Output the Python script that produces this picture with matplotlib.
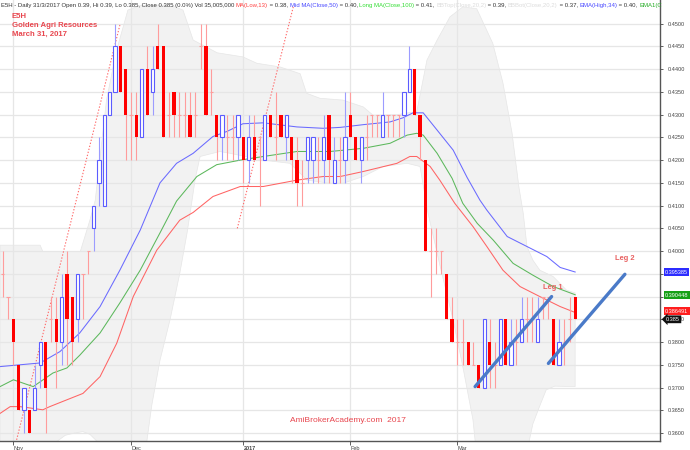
import numpy as np
import matplotlib
matplotlib.use("Agg")
import matplotlib.pyplot as plt
from matplotlib.transforms import blended_transform_factory

plt.rcParams['font.family'] = 'Liberation Sans'

# daily OHLC, 28 Oct 2016 .. 31 Mar 2017 (one row per trading day)
opens = [0.395, 0.390, 0.385, 0.375, 0.365, 0.365, 0.365, 0.375, 0.380, 0.385,
         0.385, 0.380, 0.395, 0.390, 0.385, 0.395, 0.400, 0.405, 0.415, 0.410,
         0.430, 0.435, 0.445, 0.440, 0.430, 0.430, 0.425, 0.440, 0.435, 0.445,
         0.445, 0.430, 0.435, 0.430, 0.430, 0.430, 0.430, 0.445, 0.445, 0.435,
         0.430, 0.425, 0.425, 0.425, 0.425, 0.425, 0.420, 0.425, 0.425, 0.420,
         0.430, 0.425, 0.430, 0.425, 0.425, 0.420, 0.415, 0.420, 0.420, 0.420,
         0.420, 0.430, 0.415, 0.420, 0.420, 0.430, 0.425, 0.420, 0.425, 0.430,
         0.430, 0.425, 0.430, 0.430, 0.430, 0.430, 0.435, 0.440, 0.430, 0.420,
         0.400, 0.400, 0.400, 0.395, 0.385, 0.380, 0.380, 0.380, 0.375, 0.375,
         0.370, 0.380, 0.375, 0.375, 0.385, 0.375, 0.380, 0.380, 0.385, 0.385,
         0.380, 0.390, 0.390, 0.385, 0.375, 0.380, 0.385, 0.390]
highs = [0.400, 0.390, 0.385, 0.375, 0.370, 0.365, 0.375, 0.380, 0.380, 0.390,
         0.390, 0.395, 0.400, 0.390, 0.395, 0.395, 0.400, 0.410, 0.425, 0.430,
         0.435, 0.450, 0.445, 0.440, 0.435, 0.435, 0.440, 0.445, 0.445, 0.450,
         0.445, 0.435, 0.435, 0.435, 0.435, 0.435, 0.435, 0.450, 0.450, 0.440,
         0.430, 0.430, 0.430, 0.430, 0.430, 0.425, 0.430, 0.430, 0.425, 0.430,
         0.430, 0.435, 0.430, 0.430, 0.425, 0.425, 0.420, 0.425, 0.425, 0.425,
         0.430, 0.430, 0.425, 0.425, 0.435, 0.435, 0.425, 0.425, 0.430, 0.430,
         0.430, 0.435, 0.430, 0.430, 0.430, 0.435, 0.445, 0.440, 0.430, 0.420,
         0.405, 0.405, 0.400, 0.395, 0.390, 0.385, 0.385, 0.380, 0.380, 0.375,
         0.385, 0.385, 0.380, 0.385, 0.385, 0.385, 0.385, 0.390, 0.390, 0.390,
         0.390, 0.390, 0.390, 0.385, 0.385, 0.385, 0.390, 0.390]
lows = [0.390, 0.385, 0.375, 0.365, 0.360, 0.360, 0.365, 0.370, 0.360, 0.380,
        0.370, 0.375, 0.375, 0.375, 0.380, 0.385, 0.395, 0.400, 0.410, 0.410,
        0.430, 0.435, 0.435, 0.420, 0.420, 0.420, 0.425, 0.430, 0.430, 0.440,
        0.425, 0.425, 0.425, 0.425, 0.425, 0.425, 0.425, 0.440, 0.430, 0.430,
        0.420, 0.420, 0.420, 0.420, 0.420, 0.415, 0.415, 0.420, 0.410, 0.420,
        0.425, 0.420, 0.425, 0.420, 0.415, 0.410, 0.410, 0.415, 0.415, 0.415,
        0.415, 0.415, 0.415, 0.415, 0.415, 0.425, 0.420, 0.415, 0.420, 0.425,
        0.425, 0.425, 0.425, 0.425, 0.425, 0.425, 0.435, 0.430, 0.420, 0.400,
        0.390, 0.395, 0.395, 0.385, 0.380, 0.375, 0.375, 0.375, 0.375, 0.370,
        0.370, 0.370, 0.370, 0.375, 0.375, 0.375, 0.375, 0.380, 0.380, 0.380,
        0.380, 0.385, 0.385, 0.375, 0.375, 0.375, 0.380, 0.385]
closes = [0.395, 0.390, 0.380, 0.365, 0.370, 0.360, 0.370, 0.380, 0.370, 0.385,
          0.380, 0.390, 0.385, 0.380, 0.395, 0.395, 0.400, 0.410, 0.420, 0.430,
          0.435, 0.445, 0.435, 0.430, 0.430, 0.425, 0.440, 0.430, 0.440, 0.440,
          0.425, 0.430, 0.430, 0.430, 0.430, 0.425, 0.430, 0.445, 0.430, 0.435,
          0.425, 0.430, 0.425, 0.425, 0.430, 0.420, 0.425, 0.420, 0.425, 0.430,
          0.425, 0.425, 0.425, 0.430, 0.420, 0.415, 0.415, 0.425, 0.425, 0.420,
          0.425, 0.420, 0.420, 0.420, 0.425, 0.425, 0.420, 0.425, 0.425, 0.430,
          0.430, 0.430, 0.430, 0.430, 0.430, 0.435, 0.440, 0.430, 0.425, 0.400,
          0.400, 0.400, 0.400, 0.385, 0.380, 0.380, 0.380, 0.375, 0.375, 0.370,
          0.385, 0.375, 0.375, 0.385, 0.375, 0.380, 0.380, 0.385, 0.385, 0.385,
          0.385, 0.390, 0.390, 0.375, 0.380, 0.380, 0.385, 0.385]

# indicator lines: (bar index, value)
ema_x = [-0.5, 7.0, 10.7, 14.4, 18.2, 21.9, 25.7, 29.4, 32.5, 35.6, 39.3, 41.9, 44.9,
         48.7, 55.0, 59.9, 63.1, 67.4, 72.4, 74.8, 76.7, 78.6, 81.2, 84.2, 86.8,
         89.2, 90.5, 94.3, 98.0, 101.7, 104.2, 107.0]
ema_y = [0.3746, 0.3754, 0.3779, 0.3820, 0.3878, 0.3958, 0.4046, 0.4150, 0.4193,
         0.4215, 0.4252, 0.4263, 0.4280, 0.4282, 0.4273, 0.4270, 0.4272, 0.4278,
         0.4284, 0.4293, 0.4304, 0.4304, 0.4266, 0.4222, 0.4162, 0.4112, 0.4090,
         0.4032, 0.4010, 0.3988, 0.3964, 0.3954]
ema1_x = [-0.5, 2.0, 5.7, 9.4, 12.0, 14.4, 18.2, 21.9, 25.7, 29.4, 32.5, 36.3, 40.0,
          44.4, 48.7, 55.0, 61.2, 67.4, 72.4, 75.6, 77.4, 78.6, 81.2, 84.0, 86.0,
          88.7, 91.7, 95.4, 99.1, 102.9, 107.0]
ema1_y = [0.3702, 0.3717, 0.3702, 0.3732, 0.3743, 0.3771, 0.3820, 0.3886, 0.3958,
          0.4040, 0.4110, 0.4164, 0.4190, 0.4200, 0.4208, 0.4219, 0.4219, 0.4226,
          0.4237, 0.4255, 0.4259, 0.4255, 0.4215, 0.4160, 0.4105, 0.4061, 0.4024,
          0.3973, 0.3947, 0.3922, 0.3904]
ma_low_x = [-0.5, 1.4, 3.2, 5.1, 7.5, 8.8, 12.0, 15.0, 18.2, 21.3, 24.4, 28.8, 33.1,
            35.6, 39.3, 44.4, 48.7, 55.0, 59.9, 63.1, 67.4, 73.7, 76.1, 77.4, 79.9,
            81.7, 84.5, 87.9, 90.5, 93.5, 96.7, 100.4, 104.2, 107.0]
ma_low_y = [0.3643, 0.3658, 0.3658, 0.3655, 0.3651, 0.3658, 0.3673, 0.3687, 0.3724,
            0.3797, 0.3900, 0.4002, 0.4068, 0.4085, 0.4120, 0.4142, 0.4142, 0.4156,
            0.4164, 0.4164, 0.4175, 0.4193, 0.4208, 0.4208, 0.4186, 0.4156, 0.4105,
            0.4054, 0.4010, 0.3958, 0.3922, 0.3900, 0.3878, 0.3865]

# Bollinger band edges
bb_top_x = [-0.5, 7.0, 7.5, 14.5, 16.3, 17.3, 19.4, 21.3, 23.4, 25.7, 29.4, 32.2, 33.7,
            35.6, 40.1, 44.9, 47.5, 51.8, 55.6, 56.8, 59.3, 63.6, 67.4, 69.2, 73.7,
            77.4, 79.3, 81.2, 83.6, 86.0, 88.6, 91.6, 93.5, 95.2, 96.5, 97.3, 98.0,
            99.1, 100.4, 102.9, 105.4, 107.0]
bb_top_y = [0.4013, 0.4013, 0.3999, 0.3999, 0.4068, 0.4112, 0.4332, 0.4442, 0.4530,
            0.4540, 0.4541, 0.4537, 0.4530, 0.4464, 0.4436, 0.4427, 0.4413, 0.4405,
            0.4390, 0.4347, 0.4336, 0.4332, 0.4317, 0.4299, 0.4300, 0.4307, 0.4420,
            0.4464, 0.4515, 0.4537, 0.4533, 0.4457, 0.4370, 0.4260, 0.4140, 0.4083,
            0.4010, 0.3980, 0.3958, 0.3944, 0.3914, 0.3908]
bb_bot_x = [-0.5, 10.2, 11.7, 13.5, 15.0, 16.3, 17.6, 20.0, 26.0, 26.9, 27.85, 29.4,
            31.3, 33.1, 34.45, 35.4, 36.0, 36.9, 40.6, 42.5, 48.7, 53.7, 56.9, 61.2,
            63.6, 67.4, 71.1, 75.6, 78.0, 79.5, 81.7, 84.2, 86.0, 87.9, 88.5, 98.0,
            99.1, 100.4, 101.6, 103.2, 107.0]
bb_bot_y = [0.3560, 0.3582, 0.3595, 0.3600, 0.3603, 0.3597, 0.3582, 0.3565, 0.3565,
            0.3578, 0.3660, 0.3760, 0.3850, 0.3951, 0.4039, 0.4112, 0.4160, 0.4208,
            0.4219, 0.4215, 0.4200, 0.4193, 0.4156, 0.4149, 0.4149, 0.4164, 0.4186,
            0.4193, 0.4186, 0.4083, 0.3970, 0.3848, 0.3746, 0.3629, 0.3560, 0.3560,
            0.3620, 0.3660, 0.3695, 0.3703, 0.3702]

# hand drawn lines
trend1 = ([2.6, 21.9], [0.3585, 0.4497])
trend2 = ([43.85, 54.4], [0.4050, 0.4541])
leg1 = ([88.3, 102.6], [0.3702, 0.3900])
leg2 = ([102.0, 116.3], [0.3753, 0.3949])

month_pos = [2, 24, 45, 65, 85]
month_lbl = ['Nov', 'Dec', '2017', 'Feb', 'Mar']

o = np.array(opens); h = np.array(highs); l = np.array(lows); c = np.array(closes)
x = np.arange(len(o))
flat = np.isclose(o, c)
up = (c > o) & ~flat
down = (c < o) & ~flat

fig = plt.figure(figsize=(6.9, 4.5), dpi=100)
ax = fig.add_axes([0, 9 / 450, 660 / 690, 441 / 450])
ax.set_xlim(-0.505, 122.86)
ax.set_ylim(0.35824, 0.45521)

# band
ax.fill(np.r_[bb_top_x, bb_bot_x[::-1]], np.r_[bb_top_y, bb_bot_y[::-1]],
        facecolor='#f2f2f2', edgecolor='#e6e6e6', lw=0.5, zorder=0.3)

# grid
ax.set_yticks(np.arange(0.36, 0.4501, 0.005))
ax.set_xticks(month_pos)
ax.set_axisbelow(True)
ax.grid(True, color='#e6e6e6', lw=0.9)

# trend lines
for tx, ty in (trend1, trend2):
    ax.plot(tx, ty, color='#ff6a6a', lw=0.8, ls=(0, (1.2, 1.6)), zorder=2)

# indicators
ax.plot(ema_x, ema_y, color='#6a6aff', lw=0.75, zorder=2)
ax.plot(ema1_x, ema1_y, color='#5cb85c', lw=0.75, zorder=2)
ax.plot(ma_low_x, ma_low_y, color='#ff6464', lw=0.75, zorder=2)

# candles
ax.vlines(x[up], l[up], h[up], color='#9c9cff', lw=0.8, zorder=3)
ax.vlines(x[~up], l[~up], h[~up], color='#ff9c9c', lw=0.8, zorder=3)
ax.hlines(o[flat], x[flat] - 0.3, x[flat] + 0.3, color='#ff9c9c', lw=0.8, zorder=3)
ax.bar(x[down], o[down] - c[down], bottom=c[down], width=0.6,
       color='#ff0000', lw=0, zorder=4)
ax.bar(x[up], c[up] - o[up], bottom=o[up], width=0.6,
       facecolor='white', edgecolor='#5c5cff', lw=0.8, zorder=4)

# legs
for lx, ly in (leg1, leg2):
    ax.plot(lx, ly, color='#4a7ac8', lw=2.4, solid_capstyle='round', zorder=5)
ax.text(102.8, 0.3920, 'Leg 1', color='#e86060', fontsize=5.4, fontweight='bold',
        ha='center', va='center', zorder=6)
ax.text(116.3, 0.3984, 'Leg 2', color='#e86060', fontsize=5.4, fontweight='bold',
        ha='center', va='center', zorder=6)

# axes styling
for s in ('top', 'left'):
    ax.spines[s].set_visible(False)
for s in ('right', 'bottom'):
    ax.spines[s].set_color('#555555')
    ax.spines[s].set_linewidth(1.0)
ax.yaxis.tick_right()
ax.yaxis.set_major_formatter(plt.FormatStrFormatter('%.4f'))
ax.tick_params(axis='y', length=2.5, width=0.6, pad=3, labelsize=4.0,
               colors='#444444')
ax.set_xticklabels(month_lbl)
ax.tick_params(axis='x', length=3, width=0.6, pad=0.5, labelsize=4.0,
               colors='#444444')
for t in ax.get_xticklabels():
    t.set_horizontalalignment('left')
    if t.get_text() == '2017':
        t.set_fontweight('bold')

# value tags on the right (drawn over the price labels, as in the original)
tr = blended_transform_factory(ax.transAxes, ax.transData)
tags = [(0.3954, '0.395385', '#2c2cff'), (0.3903, '0.390448', '#16a016'),
        (0.3868, '0.386491', '#ff1e1e')]
for v, s, col in tags:
    ax.text(1 + 5 / 660, v, s, transform=tr, color='white', fontsize=4.0,
            ha='left', va='center', clip_on=False, zorder=7,
            bbox=dict(boxstyle='square,pad=0.25', fc=col, ec='none'))
ax.text(1 + 6 / 660, 0.385, '0.385', transform=tr, color='white', fontsize=4.0,
        ha='left', va='center', clip_on=False, zorder=8,
        bbox=dict(boxstyle='larrow,pad=0.25', fc='#111111', ec='none'))

# titles
red = '#e8474f'
fig.text(12 / 690, 1 - 16 / 450, 'E5H', color=red, fontsize=5.6, fontweight='bold', va='center')
fig.text(12 / 690, 1 - 25.5 / 450, 'Golden Agri Resources', color=red, fontsize=5.6,
         fontweight='bold', va='center')
fig.text(12 / 690, 1 - 34.5 / 450, 'March 31, 2017', color=red, fontsize=5.6,
         fontweight='bold', va='center')
fig.text(347.5 / 690, 1 - 421 / 450, 'AmiBrokerAcademy.com  2017', color=red,
         fontsize=6.0, ha='center', va='center')

# header line
header = [("E5H - Daily 31/3/2017 Open 0.39, Hi 0.39, Lo 0.385, Close 0.385 (0.0%) Vol 35,005,000 ", '#333333'),
          ("MA(Low,13)", '#ff4040'), (" = 0.38, ", '#333333'),
          ("Mid MA(Close,50)", '#4848ff'), (" = 0.40, ", '#333333'),
          ("Long MA(Close,100)", '#33dd33'), (" = 0.41, ", '#333333'),
          ("BBTop(Close,20,2)", '#dcdcdc'), (" = 0.39, ", '#333333'),
          ("BBBot(Close,20,2)", '#dcdcdc'), (" = 0.37, ", '#333333'),
          ("EMA(High,34)", '#4848ff'), (" = 0.40, ", '#333333'),
          ("EMA1(C", '#22aa22')]
fig.canvas.draw()
r = fig.canvas.get_renderer()
xp = 1.0
for s, col in header:
    t = fig.text(xp / 690, 1 - 5 / 450, s, color=col, fontsize=4.3, va='center')
    bb = t.get_window_extent(renderer=r)
    xp = bb.x1

fig.savefig('out.png', dpi=100)
